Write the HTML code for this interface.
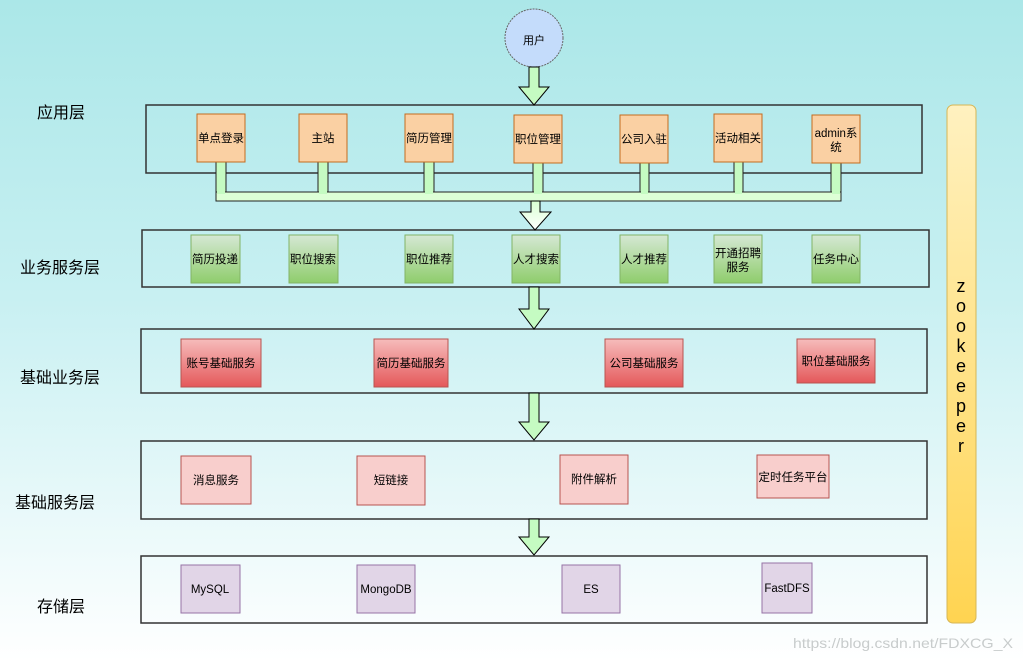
<!DOCTYPE html>
<html><head><meta charset="utf-8"><style>
html,body{margin:0;padding:0}
body{width:1023px;height:661px;overflow:hidden;background:linear-gradient(180deg,#abe7e8 0%,#c8f0f2 45%,#ffffff 100%);font-family:"Liberation Sans","Noto Sans CJK SC",sans-serif}
svg{position:absolute;left:0;top:0}
text{font-family:"Liberation Sans","Noto Sans CJK SC",sans-serif}
</style></head><body>
<svg width="1023" height="661" viewBox="0 0 1023 661">
<defs>
<linearGradient id="g" x1="0" y1="0" x2="0" y2="1"><stop offset="0" stop-color="#d5e8d4"/><stop offset="1" stop-color="#8fcd6c"/></linearGradient>
<linearGradient id="r" x1="0" y1="0" x2="0" y2="1"><stop offset="0" stop-color="#f6bcbb"/><stop offset="1" stop-color="#e4585a"/></linearGradient>
<linearGradient id="z" x1="0" y1="0" x2="0" y2="1"><stop offset="0" stop-color="#fff1c0"/><stop offset="1" stop-color="#ffd451"/></linearGradient>
<linearGradient id="w" x1="0" y1="0" x2="0" y2="1"><stop offset="0" stop-color="#d8ffd2"/><stop offset="1" stop-color="#ffffff"/></linearGradient>
</defs>
<g fill="none" stroke="#333" stroke-width="1.5">
<rect x="146" y="105" width="776" height="68"/>
<rect x="142" y="230" width="787" height="57"/>
<rect x="141" y="329" width="786" height="64"/>
<rect x="141" y="441" width="786" height="78"/>
<rect x="141" y="556" width="786" height="67"/>
</g>
<rect x="947" y="105" width="29" height="518" rx="6" fill="url(#z)" stroke="#d6b656"/>
<g font-size="18" fill="#000" text-anchor="middle">
<text x="961" y="292">z</text><text x="961" y="312">o</text><text x="961" y="332">o</text><text x="961" y="352">k</text><text x="961" y="372">e</text><text x="961" y="392">e</text><text x="961" y="412">p</text><text x="961" y="432">e</text><text x="961" y="452">r</text>
</g>
<circle cx="534" cy="38" r="29" fill="#c4dcfb" stroke="#666" stroke-dasharray="2,1"/>
<text x="534" y="44" font-size="11" text-anchor="middle">用户</text>
<g fill="#c5fbc2" stroke="#000" stroke-width="1">
<polygon points="529,67 539,67 539,87 549,87 534,105 519,87 529,87"/>
<polygon points="529,287 539,287 539,309 549,309 534,329 519,309 529,309"/>
<polygon points="529,393 539,393 539,422 549,422 534,440 519,422 529,422"/>
<polygon points="529,519 539,519 539,537 549,537 534,555 519,537 529,537"/>
</g>
<g fill="#c5fbc2" stroke="#222" stroke-width="1">
<rect x="216" y="162" width="10" height="32"/><rect x="318" y="162" width="10" height="32"/><rect x="424" y="162" width="10" height="32"/><rect x="533" y="163" width="10" height="31"/><rect x="640" y="163" width="9" height="31"/><rect x="734" y="162" width="9" height="32"/><rect x="831" y="163" width="10" height="31"/>
</g>
<rect x="216" y="192" width="625" height="9" fill="#ddffd6" stroke="#222"/>
<g fill="#c5fbc2"><rect x="217" y="190" width="8" height="4"/><rect x="319" y="190" width="8" height="4"/><rect x="425" y="190" width="8" height="4"/><rect x="534" y="190" width="8" height="4"/><rect x="641" y="190" width="7" height="4"/><rect x="735" y="190" width="7" height="4"/><rect x="832" y="190" width="8" height="4"/></g>
<polygon points="531,201 540,201 540,212 551,212 535,230 520,212 531,212" fill="url(#w)" stroke="#000"/>
<g fill="#fad0a3" stroke="#c46b1f">
<rect x="197" y="114" width="48" height="48"/><rect x="299" y="114" width="48" height="48"/><rect x="405" y="114" width="48" height="48"/><rect x="514" y="115" width="48" height="48"/><rect x="620" y="115" width="48" height="48"/><rect x="714" y="114" width="48" height="48"/><rect x="812" y="115" width="48" height="48"/>
</g>
<g font-size="11.5" text-anchor="middle" fill="#000">
<text x="221" y="142">单点登录</text><text x="323" y="142">主站</text><text x="429" y="142">简历管理</text><text x="538" y="143">职位管理</text><text x="644" y="143">公司入驻</text><text x="738" y="142">活动相关</text><text x="836" y="137">admin系</text><text x="836" y="151">统</text>
</g>
<g fill="url(#g)" stroke="#82b366">
<rect x="191" y="235" width="49" height="48"/><rect x="289" y="235" width="49" height="48"/><rect x="405" y="235" width="48" height="48"/><rect x="512" y="235" width="48" height="48"/><rect x="620" y="235" width="48" height="48"/><rect x="714" y="235" width="48" height="48"/><rect x="812" y="235" width="48" height="48"/>
</g>
<g font-size="11.5" text-anchor="middle">
<text x="215" y="263">简历投递</text><text x="313" y="263">职位搜索</text><text x="429" y="263">职位推荐</text><text x="536" y="263">人才搜索</text><text x="644" y="263">人才推荐</text><text x="738" y="257">开通招聘</text><text x="738" y="271">服务</text><text x="836" y="263">任务中心</text>
</g>
<g fill="url(#r)" stroke="#b85450">
<rect x="181" y="339" width="80" height="48"/><rect x="374" y="339" width="74" height="48"/><rect x="605" y="339" width="78" height="48"/><rect x="797" y="339" width="78" height="44"/>
</g>
<g font-size="11.5" text-anchor="middle">
<text x="221" y="367">账号基础服务</text><text x="411" y="367">简历基础服务</text><text x="644" y="367">公司基础服务</text><text x="836" y="365">职位基础服务</text>
</g>
<g fill="#f8cecc" stroke="#b85450">
<rect x="181" y="456" width="70" height="48"/><rect x="357" y="456" width="68" height="49"/><rect x="560" y="455" width="68" height="49"/><rect x="757" y="455" width="72" height="43"/>
</g>
<g font-size="11.5" text-anchor="middle">
<text x="216" y="484">消息服务</text><text x="391" y="484">短链接</text><text x="594" y="483">附件解析</text><text x="793" y="481">定时任务平台</text>
</g>
<g fill="#e1d5e7" stroke="#9673a6">
<rect x="181" y="565" width="59" height="48"/><rect x="357" y="565" width="58" height="48"/><rect x="562" y="565" width="58" height="48"/><rect x="762" y="563" width="50" height="50"/>
</g>
<g font-size="11.5" text-anchor="middle">
<text x="210" y="593">MySQL</text><text x="386" y="593">MongoDB</text><text x="591" y="593">ES</text><text x="787" y="592">FastDFS</text>
</g>
<g font-size="16" fill="#000">
<text x="37" y="118">应用层</text><text x="20" y="273">业务服务层</text><text x="20" y="383">基础业务层</text><text x="15" y="508">基础服务层</text><text x="37" y="612">存储层</text>
</g>
<text x="793" y="648" font-size="14" fill="#c8cccc" textLength="220" lengthAdjust="spacingAndGlyphs">https://blog.csdn.net/FDXCG_X</text>
</svg>
</body></html>
